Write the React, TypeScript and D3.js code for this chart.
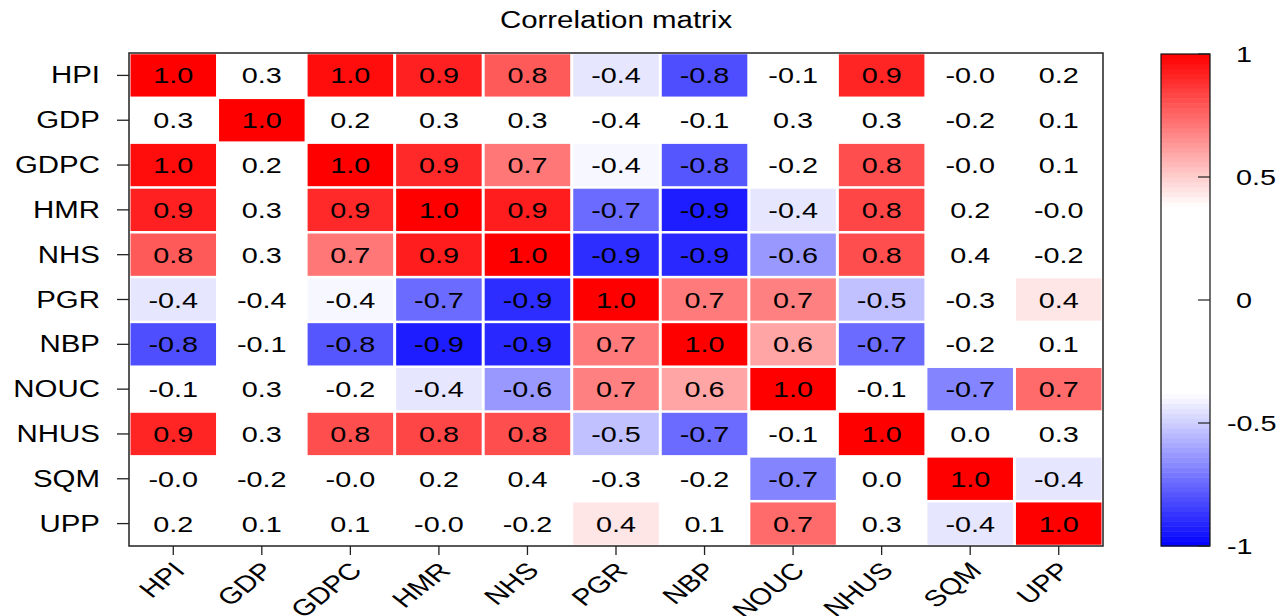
import React from 'react';
import * as d3 from 'd3';

// variable names, same order on both axes
const vars = ['HPI', 'GDP', 'GDPC', 'HMR', 'NHS', 'PGR', 'NBP', 'NOUC', 'NHUS', 'SQM', 'UPP'];

// correlation rows (two decimals guessed from the cell colours)
const rowHPI = [1.0, 0.33, 0.97, 0.92, 0.78, -0.44, -0.81, -0.1, 0.91, -0.03, 0.18];
const rowGDP = [0.33, 1.0, 0.22, 0.29, 0.31, -0.36, -0.14, 0.32, 0.27, -0.18, 0.12];
const rowGDPC = [0.97, 0.22, 1.0, 0.9, 0.71, -0.4, -0.79, -0.21, 0.81, -0.04, 0.12];
const rowHMR = [0.92, 0.29, 0.9, 1.0, 0.93, -0.74, -0.93, -0.44, 0.83, 0.18, -0.03];
const rowNHS = [0.78, 0.31, 0.71, 0.93, 1.0, -0.89, -0.9, -0.63, 0.81, 0.38, -0.2];
const rowPGR = [-0.44, -0.36, -0.4, -0.74, -0.89, 1.0, 0.7, 0.69, -0.53, -0.28, 0.44];
const rowNBP = [-0.81, -0.14, -0.79, -0.93, -0.9, 0.7, 1.0, 0.6, -0.74, -0.2, 0.1];
const rowNOUC = [-0.1, 0.32, -0.21, -0.44, -0.63, 0.69, 0.6, 1.0, -0.1, -0.68, 0.74];
const rowNHUS = [0.91, 0.27, 0.81, 0.83, 0.81, -0.53, -0.74, -0.1, 1.0, 0.02, 0.3];
const rowSQM = [-0.03, -0.18, -0.04, 0.18, 0.38, -0.28, -0.2, -0.68, 0.02, 1.0, -0.44];
const rowUPP = [0.18, 0.12, 0.12, -0.03, -0.2, 0.44, 0.1, 0.74, 0.3, -0.44, 1.0];

const matrix = [rowHPI, rowGDP, rowGDPC, rowHMR, rowNHS, rowPGR, rowNBP, rowNOUC, rowNHUS, rowSQM, rowUPP];

const legendTicks = [1, 0.5, 0, -0.5, -1];

const W = 1284;
const H = 616;
const plot = {left: 129, right: 1103, top: 53, bottom: 546};
const bar = {left: 1161, right: 1210};
const FONT = '"Liberation Sans", Arial, Helvetica, sans-serif';
const SX = 1.28; // the picture is a bit wide, so text is stretched sideways

export default function App() {
  const x = d3.scaleBand<string>().domain(vars).range([plot.left, plot.right]).paddingInner(0.034).paddingOuter(0.017);
  const y = d3.scaleBand<string>().domain(vars).range([plot.top, plot.bottom]).paddingInner(0.056).paddingOuter(0.028);
  const color = d3.scaleLinear<string>()
    .domain([-1, -0.38, 0.38, 1])
    .range(['#0000ff', '#ffffff', '#ffffff', '#ff0000'])
    .clamp(true);
  const ly = d3.scaleLinear().domain([-1, 1]).range([plot.bottom, plot.top + 1]);
  const steps = d3.range(-1, 1, 0.02);

  const cells: {r: string; c: string; v: number}[] = [];
  matrix.forEach((row, i) => row.forEach((v, j) => cells.push({r: vars[i], c: vars[j], v})));

  const txt = (tx: number, ty: number, extra = '') => `translate(${tx},${ty}) scale(${SX},1)${extra}`;

  return (
    <svg width={W} height={H} style={{display: 'block', position: 'absolute', left: 0, top: 0, background: '#fff'}}
      fontFamily={FONT}>
      <rect width={W} height={H} fill="#fff" />
      <text transform={txt((plot.left + plot.right) / 2, 28)} textAnchor="middle" fontSize={23}>Correlation matrix</text>

      {/* cells */}
      <g>
        {cells.map((d, k) => (
          <rect key={k} x={x(d.c)} y={y(d.r)} width={x.bandwidth()} height={y.bandwidth()} fill={color(d.v)} />
        ))}
      </g>
      <g fontSize={22.5} textAnchor="middle">
        {cells.map((d, k) => (
          <text key={k} transform={txt(x(d.c)! + x.bandwidth() / 2, y(d.r)! + y.bandwidth() / 2 + 8)}>
            {d.v.toFixed(1)}
          </text>
        ))}
      </g>

      <rect x={plot.left} y={plot.top} width={plot.right - plot.left} height={plot.bottom - plot.top}
        fill="none" stroke="#222" strokeWidth={1.5} />

      {/* y axis */}
      <g fontSize={23} textAnchor="end">
        {vars.map(v => {
          const cy = y(v)! + y.bandwidth() / 2;
          return (
            <g key={v}>
              <line x1={117} x2={plot.left} y1={cy} y2={cy} stroke="#222" strokeWidth={1.3} />
              <text transform={txt(100, cy + 8)}>{v}</text>
            </g>
          );
        })}
      </g>

      {/* x axis */}
      <g fontSize={23} textAnchor="end">
        {vars.map(v => {
          const cx = x(v)! + x.bandwidth() / 2;
          return (
            <g key={v}>
              <line x1={cx} x2={cx} y1={plot.bottom} y2={plot.bottom + 9} stroke="#222" strokeWidth={1.3} />
              <text transform={txt(cx + 13, 572, ' rotate(-45)')}>{v}</text>
            </g>
          );
        })}
      </g>

      {/* colour legend */}
      <g>
        {steps.map(s => (
          <rect key={s} x={bar.left} y={ly(s + 0.02)} width={bar.right - bar.left}
            height={ly(s) - ly(s + 0.02) + 0.5} fill={color(s + 0.01)} />
        ))}
        <rect x={bar.left} y={ly(1)} width={bar.right - bar.left} height={ly(-1) - ly(1)}
          fill="none" stroke="#111" strokeWidth={1.2} />
        {legendTicks.map(t => (
          <g key={t}>
            <line x1={1198} x2={bar.right} y1={ly(t)} y2={ly(t)} stroke="#222" strokeWidth={1.2} />
            <text transform={txt(t < 0 ? 1227 : 1236, ly(t) + 7.5)} fontSize={22.5} textAnchor="start">{t}</text>
          </g>
        ))}
      </g>
    </svg>
  );
}
